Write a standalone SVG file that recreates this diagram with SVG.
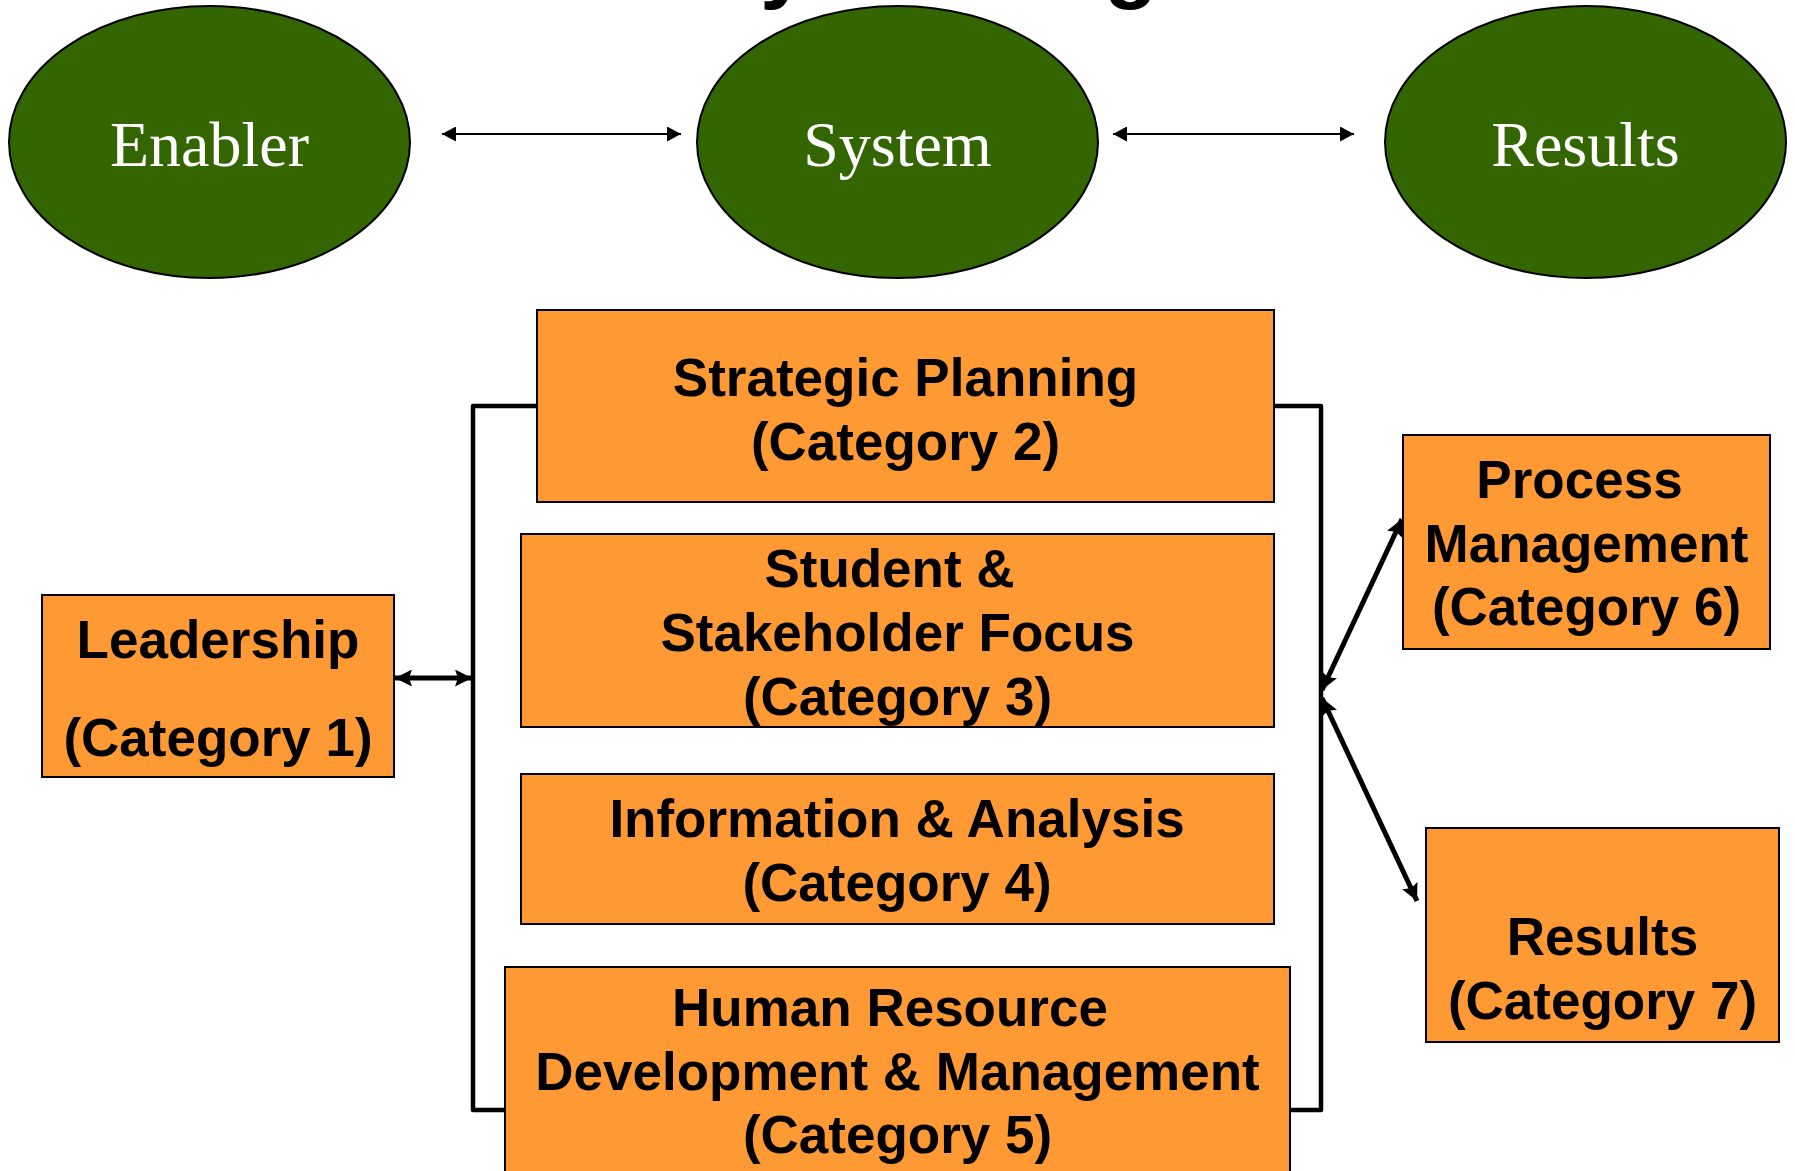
<svg xmlns="http://www.w3.org/2000/svg" width="1795" height="1171" viewBox="0 0 1795 1171">
<style>
.ell{fill:#336600;stroke:#000;stroke-width:2}
.et{font-family:"Liberation Serif","Times New Roman",serif;font-size:64px;fill:#fff;text-anchor:middle}
.box{fill:#FF9933;stroke:#000;stroke-width:2}
.bt{font-family:"Liberation Sans",Arial,sans-serif;font-weight:bold;font-size:53px;fill:#000;text-anchor:middle}
.thin{stroke:#000;stroke-width:2;fill:none}
.thick{stroke:#000;stroke-width:5;fill:none}
.brk{stroke:#000;stroke-width:4.5;fill:none;stroke-linejoin:round}
.tt{font-family:"Liberation Sans",Arial,sans-serif;font-weight:bold;font-size:88px;fill:#000}
</style>
<defs>
<marker id="ah" viewBox="0 0 14 15" refX="14" refY="7.5" markerWidth="14" markerHeight="15" markerUnits="userSpaceOnUse" orient="auto-start-reverse">
<path d="M0,0 L14,7.5 L0,15 z" fill="#000"/>
</marker>
<marker id="ahb" viewBox="0 0 17 17" refX="17" refY="8.5" markerWidth="17" markerHeight="17" markerUnits="userSpaceOnUse" orient="auto-start-reverse">
<path d="M0,0 L17,8.5 L0,17 L3,8.5 z" fill="#000"/>
</marker>
</defs>
<rect x="0" y="0" width="1795" height="1171" fill="#fff"/>
<g id="title">
<text class="tt" x="760" y="-8">y</text>
<text class="tt" x="1104" y="-8">g</text>
</g>
<g id="connectors">
<line class="thin" x1="442" y1="134" x2="681" y2="134" marker-start="url(#ah)" marker-end="url(#ah)"/>
<line class="thin" x1="1113" y1="134" x2="1354" y2="134" marker-start="url(#ah)" marker-end="url(#ah)"/>
<polyline class="brk" points="537,406 473,406 473,1110 505,1110"/>
<polyline class="brk" points="1274,406 1321,406 1321,1110 1290,1110"/>
<line class="thick" x1="395" y1="678" x2="472" y2="678" marker-start="url(#ahb)" marker-end="url(#ahb)"/>
<line class="thick" x1="1322" y1="690" x2="1402" y2="519" marker-start="url(#ahb)" marker-end="url(#ahb)"/>
<line class="thick" x1="1322" y1="698" x2="1417" y2="901" marker-start="url(#ahb)" marker-end="url(#ahb)"/>
</g>
<g id="enabler">
<ellipse class="ell" cx="209.5" cy="142" rx="200.5" ry="136"/>
<text class="et" x="209.5" y="166">Enabler</text>
</g>
<g id="system">
<ellipse class="ell" cx="897.5" cy="142" rx="200.5" ry="136"/>
<text class="et" x="897.5" y="166">System</text>
</g>
<g id="results-top">
<ellipse class="ell" cx="1585.5" cy="142" rx="200.5" ry="136"/>
<text class="et" x="1585.5" y="166">Results</text>
</g>
<g id="strategic">
<rect class="box" x="537" y="310" width="737" height="192"/>
<text class="bt" x="905.5" y="396">Strategic Planning</text>
<text class="bt" x="905.5" y="460">(Category 2)</text>
</g>
<g id="student">
<rect class="box" x="521" y="534" width="753" height="193"/>
<text class="bt" x="889.5" y="587">Student &amp;</text>
<text class="bt" x="897.5" y="651">Stakeholder Focus</text>
<text class="bt" x="897.5" y="715">(Category 3)</text>
</g>
<g id="information">
<rect class="box" x="521" y="774" width="753" height="150"/>
<text class="bt" x="897" y="837">Information &amp; Analysis</text>
<text class="bt" x="897" y="901">(Category 4)</text>
</g>
<g id="human-resource">
<rect class="box" x="505" y="967" width="785" height="215"/>
<text class="bt" x="890" y="1026">Human Resource</text>
<text class="bt" x="897.5" y="1090">Development &amp; Management</text>
<text class="bt" x="897.5" y="1153">(Category 5)</text>
</g>
<g id="leadership">
<rect class="box" x="42" y="595" width="352" height="182"/>
<text class="bt" x="218" y="658">Leadership</text>
<text class="bt" x="218" y="756">(Category 1)</text>
</g>
<g id="process">
<rect class="box" x="1403" y="435" width="367" height="214"/>
<text class="bt" x="1579.5" y="498">Process</text>
<text class="bt" x="1586.5" y="562">Management</text>
<text class="bt" x="1586.5" y="625">(Category 6)</text>
</g>
<g id="results">
<rect class="box" x="1426" y="828" width="353" height="214"/>
<text class="bt" x="1602.5" y="955">Results</text>
<text class="bt" x="1602.5" y="1019">(Category 7)</text>
</g>
</svg>
